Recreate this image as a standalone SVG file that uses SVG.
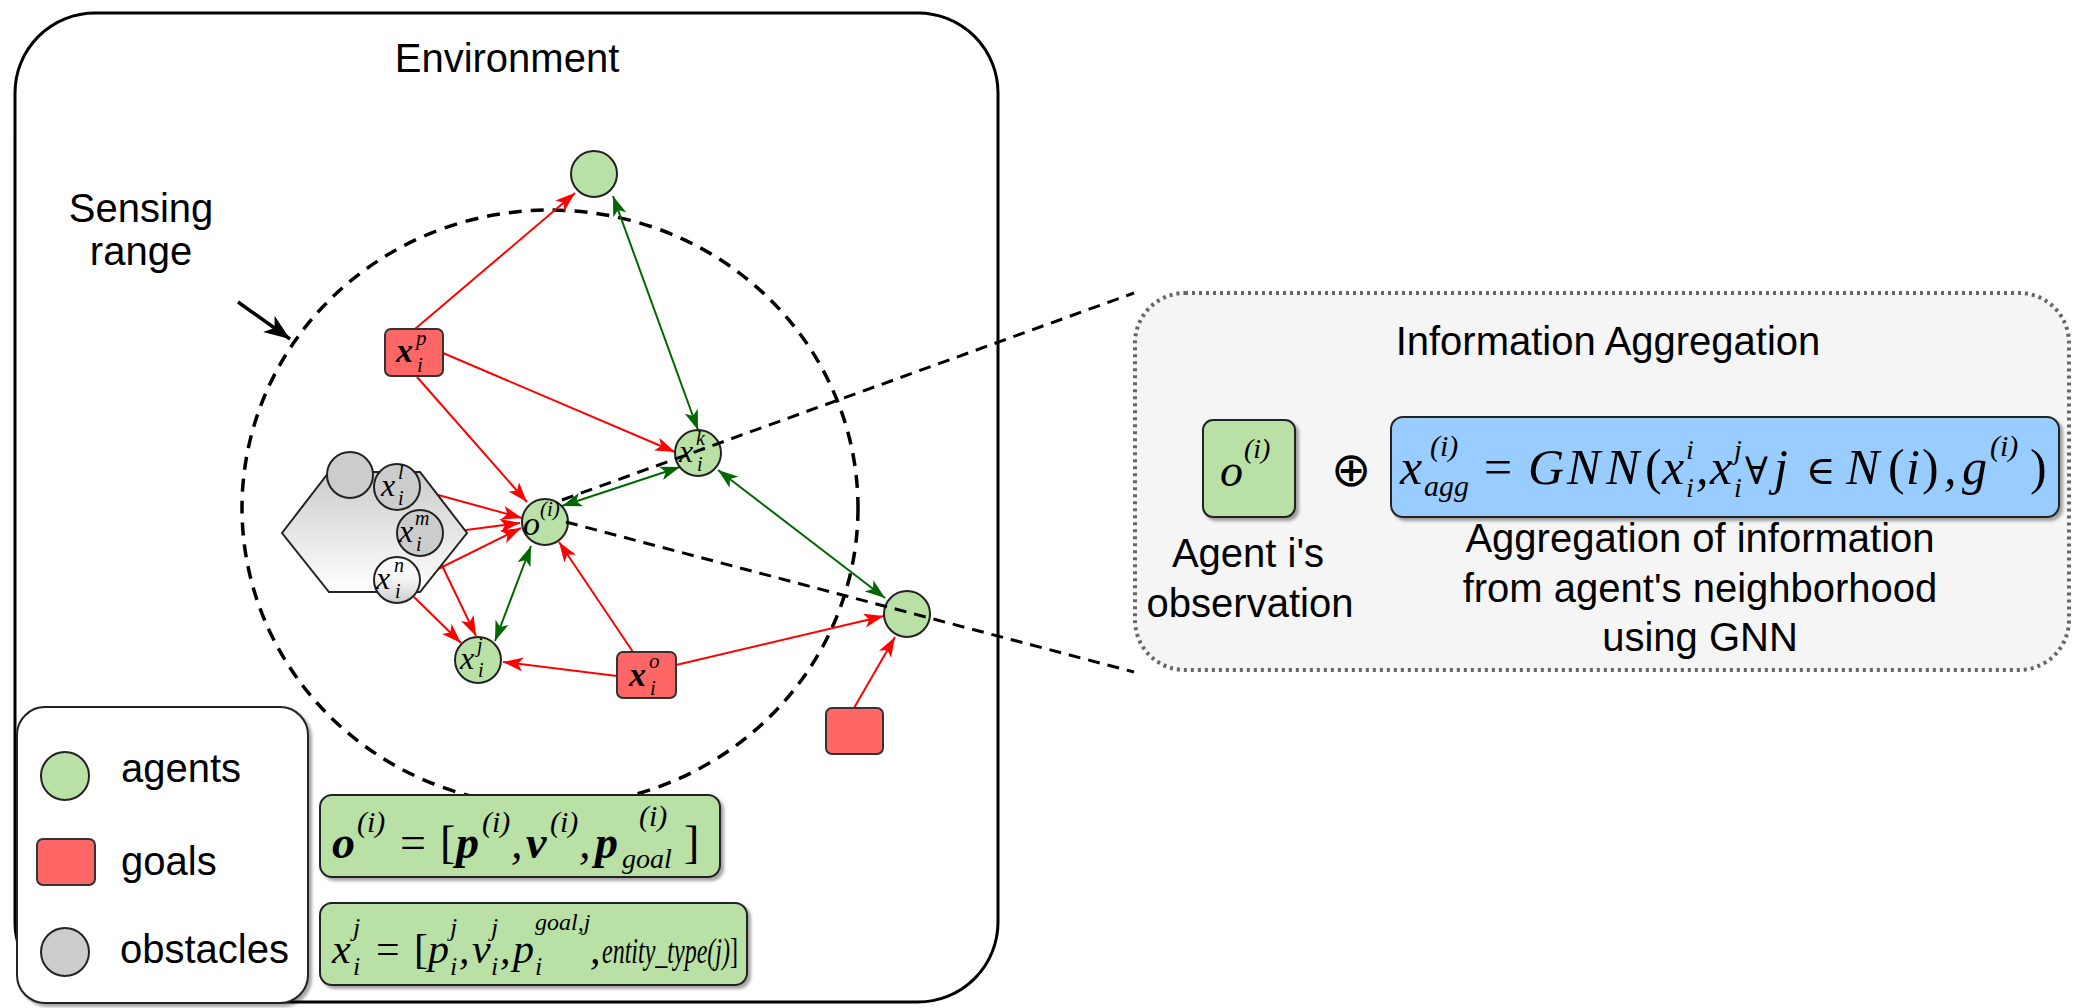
<svg xmlns="http://www.w3.org/2000/svg" width="2074" height="1008" viewBox="0 0 2074 1008">
<style>
.lbl{font-family:"Liberation Sans",Arial,sans-serif;font-size:40px;fill:#000}
.mi{font-family:"Liberation Serif","DejaVu Serif",serif;font-style:italic;fill:#000}
.mr{font-family:"Liberation Serif","DejaVu Serif",serif;fill:#000}
.sym{font-family:"DejaVu Serif",serif;fill:#000}
.agent{fill:#b9e0a5;stroke:#222;stroke-width:2}
.goal{fill:#ff6666;stroke:#333;stroke-width:2}
.obst{fill:#cccccc;stroke:#222;stroke-width:2}
.red{stroke:#ff0000;stroke-width:2;fill:none;marker-end:url(#ar)}
.grn{stroke:#006600;stroke-width:2;fill:none;marker-end:url(#ag);marker-start:url(#ag)}
.dash{stroke:#000;stroke-width:3;fill:none;stroke-dasharray:12 8}
.box{fill:#b9e0a5;stroke:#222;stroke-width:2}
</style>
<defs>
<marker id="ar" viewBox="0 0 20 14" refX="20" refY="7" markerWidth="20" markerHeight="14" markerUnits="userSpaceOnUse" orient="auto-start-reverse"><path d="M0,0 L20,7 L0,14 L5,7 Z" fill="#ff0000"/></marker>
<marker id="ag" viewBox="0 0 20 14" refX="20" refY="7" markerWidth="20" markerHeight="14" markerUnits="userSpaceOnUse" orient="auto-start-reverse"><path d="M0,0 L20,7 L0,14 L5,7 Z" fill="#006600"/></marker>
<marker id="ak" viewBox="0 0 26 20" refX="26" refY="10" markerWidth="26" markerHeight="20" markerUnits="userSpaceOnUse" orient="auto"><path d="M0,0 L26,10 L0,20 L7,10 Z" fill="#000"/></marker>
<linearGradient id="gHex" x1="0" y1="0" x2="0" y2="1"><stop offset="0" stop-color="#cccccc"/><stop offset="1" stop-color="#ffffff"/></linearGradient>
<linearGradient id="gN" x1="0" y1="0" x2="0" y2="1"><stop offset="0" stop-color="#ffffff"/><stop offset="0.5" stop-color="#f4f4f4"/><stop offset="1" stop-color="#cccccc"/></linearGradient>
<filter id="sh" x="-5%" y="-5%" width="115%" height="120%"><feDropShadow dx="3" dy="3" stdDeviation="1.5" flood-color="#000" flood-opacity="0.35"/></filter>
</defs>

<g id="environment">
<rect x="15" y="13" width="983" height="989" rx="80" fill="#fff" stroke="#000" stroke-width="3"/>
<text class="lbl" x="507" y="72" text-anchor="middle">Environment</text>
</g>

<g id="sensing-range">
<ellipse cx="550" cy="508" rx="308" ry="298" fill="none" stroke="#000" stroke-width="3.5" stroke-dasharray="13 9"/>
<text class="lbl" x="141" y="222" text-anchor="middle">Sensing</text>
<text class="lbl" x="141" y="265" text-anchor="middle">range</text>
<line x1="238" y1="302" x2="290" y2="339" stroke="#000" stroke-width="3.5" marker-end="url(#ak)"/>
</g>

<g id="info-aggregation">
<rect x="1135" y="293" width="934" height="377" rx="50" fill="#f5f5f5" stroke="#666" stroke-width="4" stroke-dasharray="3 4"/>
<text class="lbl" x="1608" y="355" text-anchor="middle">Information Aggregation</text>
</g>

<g id="connectors">
<line class="red" x1="415" y1="329" x2="575" y2="193"/>
<line class="red" x1="443" y1="353" x2="675" y2="452"/>
<line class="red" x1="417" y1="377" x2="527" y2="502"/>
<line class="red" x1="420" y1="490" x2="522" y2="518"/>
<line class="red" x1="443" y1="533" x2="520" y2="523"/>
<line class="red" x1="420" y1="578" x2="521" y2="528"/>
<line class="red" x1="436" y1="553" x2="476" y2="636"/>
<line class="red" x1="414" y1="597" x2="461" y2="643"/>
<line class="red" x1="617" y1="676" x2="503" y2="662"/>
<line class="red" x1="633" y1="652" x2="559" y2="542"/>
<line class="red" x1="676" y1="665" x2="884" y2="616"/>
<line class="red" x1="854" y1="708" x2="895" y2="637"/>
<line class="grn" x1="613" y1="196" x2="698" y2="430"/>
<line class="grn" x1="562" y1="506" x2="680" y2="467"/>
<line class="grn" x1="718" y1="470" x2="885" y2="598"/>
<line class="grn" x1="531" y1="546" x2="495" y2="641"/>
</g>

<g id="obstacle-group">
<polygon points="282,533 329,472 420,472 467,533 420,592 329,592" fill="url(#gHex)" stroke="#222" stroke-width="2"/>
<circle class="obst" cx="350" cy="475" r="23"/>
</g>
<g id="obstacle-l">
<circle class="obst" cx="397" cy="487" r="23"/>
<text class="mi" x="381" y="496" font-size="32">x</text><text class="mi" x="398" y="479" font-size="20">l</text><text class="mi" x="398" y="505" font-size="20">i</text>
</g>
<g id="obstacle-m">
<circle class="obst" cx="420" cy="533" r="23"/>
<text class="mi" x="399" y="542" font-size="32">x</text><text class="mi" x="415" y="525" font-size="20">m</text><text class="mi" x="416" y="551" font-size="20">i</text>
</g>
<g id="obstacle-n">
<circle cx="397" cy="580" r="23" fill="url(#gN)" stroke="#222" stroke-width="2"/>
<text class="mi" x="376" y="589" font-size="32">x</text><text class="mi" x="394" y="572" font-size="20">n</text><text class="mi" x="395" y="598" font-size="20">i</text>
</g>

<g id="agent-top"><circle class="agent" cx="594" cy="174" r="23"/></g>
<g id="agent-k">
<circle class="agent" cx="698" cy="453" r="23"/>
<text class="mi" x="679" y="462" font-size="32">x</text><text class="mi" x="696" y="445" font-size="20">k</text><text class="mi" x="697" y="471" font-size="20">i</text>
</g>
<g id="agent-o">
<circle class="agent" cx="545" cy="522" r="23"/>
<text class="mi" x="523" y="535" font-size="34">o</text><text class="mi" x="540" y="516" font-size="21">(i)</text>
</g>
<g id="agent-j">
<circle class="agent" cx="478" cy="660" r="23"/>
<text class="mi" x="460" y="669" font-size="32">x</text><text class="mi" x="477" y="652" font-size="20">j</text><text class="mi" x="478" y="677" font-size="20">i</text>
</g>
<g id="agent-right"><circle class="agent" cx="907" cy="614" r="23"/></g>

<g id="goal-p">
<rect class="goal" x="385" y="329" width="58" height="47" rx="6"/>
<text class="mi" x="396" y="362" font-size="34" font-weight="bold">x</text><text class="mi" x="416" y="345" font-size="21">p</text><text class="mi" x="417" y="372" font-size="21">i</text>
</g>
<g id="goal-o">
<rect class="goal" x="617" y="652" width="59" height="46" rx="6"/>
<text class="mi" x="629" y="686" font-size="34" font-weight="bold">x</text><text class="mi" x="649" y="668" font-size="21">o</text><text class="mi" x="650" y="695" font-size="21">i</text>
</g>
<g id="goal-bottom"><rect class="goal" x="826" y="708" width="57" height="46" rx="6"/></g>

<g id="zoom-lines">
<line class="dash" x1="562" y1="500" x2="1134" y2="293"/>
<line class="dash" x1="566" y1="522" x2="1134" y2="672"/>
</g>

<g id="legend">
<rect x="17" y="707" width="291" height="296" rx="28" fill="#fff" stroke="#222" stroke-width="2" filter="url(#sh)"/>
<circle class="agent" cx="65" cy="776" r="24"/>
<text class="lbl" x="121" y="782">agents</text>
<rect class="goal" x="37" y="839" width="58" height="46" rx="6"/>
<text class="lbl" x="121" y="875">goals</text>
<circle class="obst" cx="65" cy="952" r="24"/>
<text class="lbl" x="120" y="963">obstacles</text>
</g>

<g id="observation-formula">
<rect class="box" x="320" y="795" width="400" height="82" rx="12" filter="url(#sh)"/>
<text class="mi" x="332" y="858" font-size="46" font-weight="bold">o</text>
<text class="mi" x="357" y="832" font-size="30">(i)</text>
<text class="mr" x="400" y="858" font-size="46">=</text>
<text class="mr" x="440" y="858" font-size="46">[</text>
<text class="mi" x="456" y="858" font-size="46" font-weight="bold">p</text>
<text class="mi" x="482" y="832" font-size="30">(i)</text>
<text class="mi" x="511" y="858" font-size="46">,</text>
<text class="mi" x="526" y="858" font-size="46" font-weight="bold">v</text>
<text class="mi" x="550" y="832" font-size="30">(i)</text>
<text class="mi" x="579" y="858" font-size="46">,</text>
<text class="mi" x="595" y="858" font-size="46" font-weight="bold">p</text>
<text class="mi" x="639" y="826" font-size="30">(i)</text>
<text class="mi" x="622" y="868" font-size="28">goal</text>
<text class="mr" x="684" y="858" font-size="46">]</text>
</g>

<g id="entity-formula">
<rect class="box" x="320" y="903" width="427" height="82" rx="12" filter="url(#sh)"/>
<text class="mi" x="332" y="963" font-size="42">x</text>
<text class="mi" x="353" y="936" font-size="26">j</text>
<text class="mi" x="353" y="975" font-size="26">i</text>
<text class="mr" x="376" y="963" font-size="42">=</text>
<text class="mr" x="414" y="963" font-size="42">[</text>
<text class="mi" x="428" y="963" font-size="42">p</text>
<text class="mi" x="450" y="936" font-size="26">j</text><text class="mi" x="450" y="975" font-size="26">i</text>
<text class="mi" x="459" y="963" font-size="42">,</text>
<text class="mi" x="472" y="963" font-size="42">v</text>
<text class="mi" x="491" y="936" font-size="26">j</text><text class="mi" x="491" y="975" font-size="26">i</text>
<text class="mi" x="500" y="963" font-size="42">,</text>
<text class="mi" x="513" y="963" font-size="42">p</text>
<text class="mi" x="535" y="975" font-size="26">i</text>
<text class="mi" x="535" y="930" font-size="24">goal,j</text>
<text class="mi" x="590" y="963" font-size="42">,</text>
<text class="mi" x="602" y="963" font-size="36" textLength="136" lengthAdjust="spacingAndGlyphs">entity_type(j)<tspan font-style="normal">]</tspan></text>
</g>

<g id="obs-box">
<rect class="box" x="1203" y="420" width="92" height="97" rx="10" filter="url(#sh)"/>
<text class="mi" x="1220" y="486" font-size="46">o</text>
<text class="mi" x="1244" y="458" font-size="28">(i)</text>
<text class="lbl" x="1248" y="567" text-anchor="middle">Agent i's</text>
<text class="lbl" x="1250" y="617" text-anchor="middle">observation</text>
</g>

<g id="oplus"><text x="1351" y="486" font-family="DejaVu Sans, sans-serif" font-weight="200" font-size="48" text-anchor="middle">⊕</text></g>

<g id="gnn-box">
<rect x="1391" y="417" width="668" height="100" rx="12" fill="#99ccff" stroke="#222" stroke-width="2" filter="url(#sh)"/>
<text class="mi" x="1400" y="484" font-size="50">x</text>
<text class="mi" x="1430" y="456" font-size="30">(i)</text>
<text class="mi" x="1424" y="496" font-size="30">agg</text>
<text class="mr" x="1484" y="484" font-size="50">=</text>
<text class="mi" x="1528" y="484" font-size="50">G</text>
<text class="mi" x="1567" y="484" font-size="50">N</text>
<text class="mi" x="1606" y="484" font-size="50">N</text>
<text class="mr" x="1645" y="484" font-size="50">(</text>
<text class="mi" x="1662" y="484" font-size="50">x</text>
<text class="mi" x="1686" y="459" font-size="28">i</text><text class="mi" x="1686" y="497" font-size="28">i</text>
<text class="mi" x="1696" y="484" font-size="50">,</text>
<text class="mi" x="1710" y="484" font-size="50">x</text>
<text class="mi" x="1734" y="459" font-size="28">j</text><text class="mi" x="1734" y="497" font-size="28">i</text>
<text class="sym" x="1745" y="484" font-size="38">∀</text>
<text class="mi" x="1774" y="484" font-size="50">j</text>
<text class="sym" x="1806" y="484" font-size="40">∈</text>
<text class="mi" x="1846" y="484" font-size="50">N</text>
<text class="mr" x="1888" y="484" font-size="50">(</text><text class="mi" x="1906" y="484" font-size="50">i</text><text class="mr" x="1922" y="484" font-size="50">)</text>
<text class="mi" x="1944" y="484" font-size="50">,</text>
<text class="mi" x="1962" y="484" font-size="50">g</text>
<text class="mi" x="1990" y="456" font-size="30">(i)</text>
<text class="mr" x="2030" y="484" font-size="50">)</text>
<text class="lbl" x="1700" y="552" text-anchor="middle">Aggregation of information</text>
<text class="lbl" x="1700" y="602" text-anchor="middle">from agent's neighborhood</text>
<text class="lbl" x="1700" y="651" text-anchor="middle">using GNN</text>
</g>
</svg>
